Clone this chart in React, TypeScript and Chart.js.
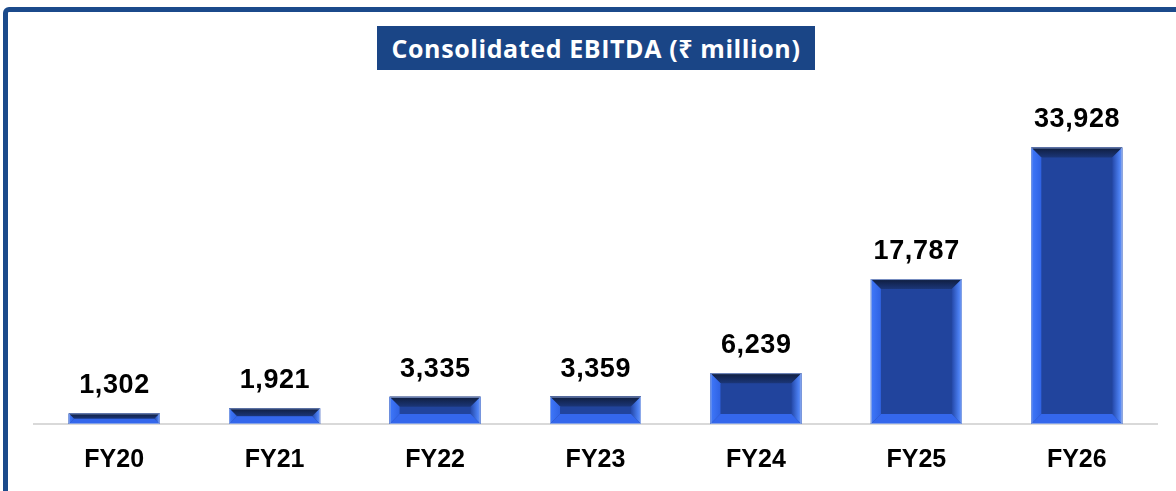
import React, { useEffect, useRef } from "react";
import { Chart, registerables } from "chart.js";

Chart.register(...registerables);

const TITLE = "Consolidated EBITDA (₹ million)";
const CATEGORIES = ["FY20", "FY21", "FY22", "FY23", "FY24", "FY25", "FY26"];
const EBITDA = [1302, 1921, 3335, 3359, 6239, 17787, 33928];
const Y_MAX = 40000;

const fmt = (v: number) => v.toLocaleString("en-US");

const bevelPlugin = {
  id: "bevelBars",
  afterDatasetsDraw(chart: any) {
    const ctx = chart.ctx as CanvasRenderingContext2D;
    const meta = chart.getDatasetMeta(0);
    meta.data.forEach((bar: any, i: number) => {
      const { x, y, base, width } = bar.getProps(["x", "y", "base", "width"], true);
      const L = x - width / 2;
      const R = x + width / 2;
      const T = Math.min(y, base);
      const B = Math.max(y, base);
      const h = B - T;
      const b = Math.min(10, h / 2);
      ctx.save();
      // face
      ctx.fillStyle = "#21449d";
      ctx.fillRect(L, T, width, h);
      // top bevel
      let g = ctx.createLinearGradient(0, T, 0, T + b);
      g.addColorStop(0, "#0f1d3d");
      g.addColorStop(1, "#1b3678");
      ctx.fillStyle = g;
      ctx.beginPath();
      ctx.moveTo(L, T); ctx.lineTo(R, T); ctx.lineTo(R - b, T + b); ctx.lineTo(L + b, T + b); ctx.closePath();
      ctx.fill();
      // left bevel
      g = ctx.createLinearGradient(L, 0, L + b, 0);
      g.addColorStop(0, "#3f78fb");
      g.addColorStop(1, "#2f62e2");
      ctx.fillStyle = g;
      ctx.beginPath();
      ctx.moveTo(L, T); ctx.lineTo(L + b, T + b); ctx.lineTo(L + b, B - b); ctx.lineTo(L, B); ctx.closePath();
      ctx.fill();
      // right bevel
      g = ctx.createLinearGradient(R - b, 0, R, 0);
      g.addColorStop(0, "#2448a8");
      g.addColorStop(0.7, "#4a7ef0");
      g.addColorStop(1, "#6e98f5");
      ctx.fillStyle = g;
      ctx.beginPath();
      ctx.moveTo(R, T); ctx.lineTo(R, B); ctx.lineTo(R - b, B - b); ctx.lineTo(R - b, T + b); ctx.closePath();
      ctx.fill();
      // bottom bevel
      ctx.fillStyle = "#3467ec";
      ctx.beginPath();
      ctx.moveTo(L, B); ctx.lineTo(R, B); ctx.lineTo(R - b, B - b); ctx.lineTo(L + b, B - b); ctx.closePath();
      ctx.fill();
      // thin edge
      ctx.strokeStyle = "rgba(150,175,230,0.8)";
      ctx.lineWidth = 1;
      ctx.strokeRect(L + 0.5, T + 0.5, width - 1, h - 1);
      // value label
      ctx.fillStyle = "#000000";
      ctx.font = "bold 27px 'Liberation Sans', Arial, sans-serif";
      (ctx as any).letterSpacing = "0.6px";
      ctx.textAlign = "center";
      ctx.textBaseline = "alphabetic";
      ctx.fillText(fmt(EBITDA[i]), x + 0.3, T - 20);
      ctx.restore();
    });
  },
};

export default function App() {
  const canvasRef = useRef<HTMLCanvasElement | null>(null);

  useEffect(() => {
    document.body.style.margin = "0";
    const canvas = canvasRef.current;
    if (!canvas) return;
    const chart = new Chart(canvas, {
      type: "bar",
      data: {
        labels: CATEGORIES,
        datasets: [
          {
            data: EBITDA,
            backgroundColor: "#21449d",
            borderWidth: 0,
            categoryPercentage: 1,
            barPercentage: 0.567,
          },
        ],
      },
      options: {
        animation: false,
        responsive: false,
        maintainAspectRatio: false,
        layout: { padding: { left: 34, right: 19, top: 98, bottom: -5 } },
        plugins: {
          legend: { display: false },
          title: { display: false },
          tooltip: { enabled: false },
        },
        scales: {
          y: { display: false, min: 0, max: Y_MAX },
          x: {
            grid: { display: false, drawTicks: false },
            border: { display: true, color: "#d9d9d9", width: 2 },
            ticks: {
              color: "#000000",
              padding: 21,
              font: { family: "'Liberation Sans', Arial, sans-serif", size: 25, weight: "bold" },
            },
          },
        },
      },
      plugins: [bevelPlugin],
    });
    return () => chart.destroy();
  }, []);

  return (
    <div style={{ position: "relative", width: 1176, height: 491, overflow: "hidden", background: "#ffffff" }}>
      <div
        style={{
          position: "absolute",
          left: 3,
          top: 7,
          right: -20,
          bottom: -20,
          border: "5px solid #1b4a8b",
          borderRadius: 6,
        }}
      />
      <canvas ref={canvasRef} width={1176} height={491} style={{ position: "absolute", left: 0, top: 0 }} />
      <div
        style={{
          position: "absolute",
          left: 377,
          top: 26,
          width: 438,
          height: 44,
          background: "#1a4586",
          color: "#ffffff",
          fontFamily: "'Open Sans', 'Noto Sans', 'DejaVu Sans', sans-serif",
          fontWeight: 700,
          fontSize: 25,
          letterSpacing: "0.6px",
          lineHeight: "44px",
          textAlign: "center",
          whiteSpace: "nowrap",
        }}
      >
        {TITLE}
      </div>
    </div>
  );
}
